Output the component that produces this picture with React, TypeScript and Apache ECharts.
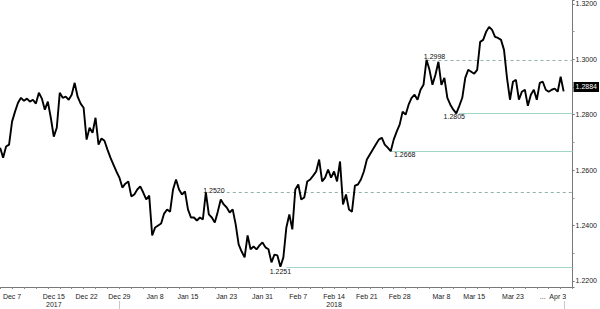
import React, { useEffect, useRef } from "react";
import * as echarts from "echarts";

// GBP/USD-style intraday path, sampled roughly evenly along the time axis
const prices = [
  1.2681, 1.2645, 1.2685, 1.2692, 1.2775, 1.2811, 1.2843, 1.2861, 1.2850, 1.2858,
  1.2847, 1.2854, 1.2840, 1.2879, 1.2858, 1.2818, 1.2847, 1.2789, 1.2721, 1.2753,
  1.2879, 1.2861, 1.2865, 1.2854, 1.2872, 1.2915, 1.2865, 1.2840, 1.2825, 1.2710,
  1.2753, 1.2735, 1.2789, 1.2692, 1.2714, 1.2706, 1.2674, 1.2645, 1.2620, 1.2595,
  1.2573, 1.2537, 1.2551, 1.2559, 1.2505, 1.2512, 1.2530, 1.2541, 1.2519, 1.2494,
  1.2508, 1.2364, 1.2393, 1.2400, 1.2407, 1.2443, 1.2458, 1.2450, 1.2530, 1.2566,
  1.2530, 1.2512, 1.2523, 1.2458, 1.2429, 1.2429, 1.2418, 1.2429, 1.2422, 1.2520,
  1.2440, 1.2429, 1.2411, 1.2450, 1.2494, 1.2476, 1.2465, 1.2447, 1.2458, 1.2404,
  1.2332, 1.2306, 1.2285, 1.2364, 1.2314, 1.2324, 1.2314, 1.2328, 1.2339, 1.2321,
  1.2314, 1.2267, 1.2295, 1.2292, 1.2251, 1.2285, 1.2393, 1.2440, 1.2386, 1.2530,
  1.2548, 1.2494, 1.2501, 1.2559, 1.2566, 1.2580, 1.2595, 1.2638, 1.2559, 1.2573,
  1.2602, 1.2573, 1.2595, 1.2559, 1.2631, 1.2476, 1.2512, 1.2458, 1.2450, 1.2544,
  1.2548, 1.2566, 1.2595, 1.2638, 1.2656, 1.2674, 1.2692, 1.2710, 1.2717, 1.2692,
  1.2681, 1.2668, 1.2710, 1.2739, 1.2764, 1.2811, 1.2800, 1.2836, 1.2861, 1.2872,
  1.2854, 1.2890, 1.2908, 1.2998, 1.2962, 1.2908, 1.2944, 1.2991, 1.2908, 1.2933,
  1.2861, 1.2836, 1.2818, 1.2805, 1.2832, 1.2861, 1.2933, 1.2962, 1.2955, 1.2948,
  1.2962, 1.3063, 1.3070, 1.3099, 1.3117, 1.3106, 1.3081, 1.3077, 1.3070, 1.3034,
  1.2933, 1.2854, 1.2919, 1.2926, 1.2854, 1.2883, 1.2890, 1.2832, 1.2872, 1.2890,
  1.2854, 1.2915, 1.2919, 1.2890, 1.2883, 1.2890, 1.2894, 1.2883, 1.2937, 1.2884,
];

const slotCount = 193; // time slots on the axis (last few are still empty)
const categories = Array.from({ length: slotCount }, (_, i) => String(i));

const tickIndex = [4, 18, 29, 40, 52, 63, 76, 88, 100, 112, 123, 134, 148, 159, 172, 182, 187];
const tickLabels = [
  "Dec 7", "Dec 15\n2017", "Dec 22", "Dec 29", "Jan 8", "Jan 15", "Jan 23", "Jan 31",
  "Feb 7", "Feb 14\n2018", "Feb 21", "Feb 28", "Mar 8", "Mar 15", "Mar 23", "...", "Apr 3",
];

const levels = [1.2998, 1.2805, 1.2668, 1.252, 1.2251];
const dashedLevels = [1.2998, 1.252];
const separatorIndex = [40, 189];

const FONT = "'Liberation Sans Narrow', 'Arial Narrow', 'Liberation Sans', Arial, sans-serif";

const labelStyle: Record<string, any> = {
  "1.2998": { position: "top", offset: [8, 2] },
  "1.2805": { position: "bottom", offset: [-2, -1] },
  "1.2668": { position: "bottom", offset: [14, -1] },
  "1.252": { position: "right", offset: [-4, -1] },
  "1.2251": { position: "bottom", offset: [0, 0] },
};
const lineGap: Record<string, number> = {
  "1.2998": 0, "1.2805": 1, "1.2668": 0, "1.252": 5, "1.2251": 2,
};

export default function App() {
  const ref = useRef<HTMLDivElement>(null);
  useEffect(() => {
    if (!ref.current) return;
    const chart = echarts.init(ref.current, undefined, { renderer: "svg" });
    const last = prices[prices.length - 1];
    const labelMap: Record<number, string> = {};
    tickIndex.forEach((t, k) => (labelMap[t] = tickLabels[k]));

    const markPoints = levels.map((v) => {
      const idx = prices.indexOf(v);
      const ls = labelStyle[String(v)];
      return {
        coord: [idx, v],
        value: v,
        symbolSize: 1,
        itemStyle: { color: "rgba(0,0,0,0)" },
        label: {
          show: true,
          position: ls.position,
          offset: ls.offset,
          distance: 1,
          formatter: v.toFixed(4),
          color: "#111",
          fontSize: 7,
          fontFamily: FONT,
        },
      };
    });

    const markLines: any[] = levels.map((v) => {
      const idx = prices.indexOf(v) + lineGap[String(v)];
      const dashed = dashedLevels.includes(v);
      return [
        {
          coord: [idx, v],
          lineStyle: {
            color: dashed ? "#8fb3aa" : "#9fd6c6",
            type: dashed ? [3, 3] : "solid",
            width: 1,
          },
          label: { show: false },
        },
        { coord: [slotCount - 1, v] },
      ];
    });
    markLines.push({
      yAxis: last,
      lineStyle: { color: "rgba(0,0,0,0)", width: 0 },
      label: {
        show: true,
        position: "end",
        distance: 1,
        formatter: last.toFixed(4),
        backgroundColor: "#000",
        color: "#fff",
        fontSize: 7,
        fontFamily: FONT,
        padding: [2, 2, 1, 2],
      },
    });

    chart.setOption({
      animation: false,
      grid: { left: 0, right: 23, top: 0, bottom: 22 },
      xAxis: {
        type: "category",
        data: categories,
        boundaryGap: false,
        axisLine: { show: true, lineStyle: { color: "#777", width: 1 } },
        axisTick: { show: true, interval: 3, length: 2, lineStyle: { color: "#888" } },
        axisLabel: {
          interval: (index: number) => labelMap[index] !== undefined,
          formatter: (_v: string, index: number) => labelMap[index] ?? "",
          fontSize: 7,
          lineHeight: 8,
          margin: 5,
          color: "#222",
          fontFamily: FONT,
        },
        splitLine: { show: false },
      },
      yAxis: {
        type: "value",
        position: "right",
        min: 1.2178,
        max: 1.3214,
        splitNumber: 5,
        axisLine: { show: true, lineStyle: { color: "#777", width: 1 } },
        axisTick: { show: true, length: 2, lineStyle: { color: "#777" } },
        minorTick: { show: true, splitNumber: 2, length: 2, lineStyle: { color: "#999" } },
        axisLabel: {
          showMinLabel: false,
          showMaxLabel: false,
          formatter: (v: number) => v.toFixed(4),
          fontSize: 7,
          margin: 3,
          color: "#222",
          fontFamily: FONT,
        },
        splitLine: { show: false },
      },
      series: [
        {
          type: "line",
          data: prices,
          symbol: "none",
          lineStyle: { color: "#000", width: 1.9 },
          z: 5,
          markPoint: { data: markPoints, animation: false },
          markLine: {
            symbol: ["none", "none"],
            silent: true,
            animation: false,
            data: markLines,
            z: 1,
          },
        },
      ],
    });

    const seps = separatorIndex.map((i) => {
      const x = Math.round(chart.convertToPixel({ xAxisIndex: 0 }, i) as number) + 0.5;
      return {
        type: "line",
        shape: { x1: x, y1: 301, x2: x, y2: 309 },
        style: { stroke: "#c8c8c8", lineWidth: 1 },
      };
    });
    chart.setOption({ graphic: seps });

    return () => chart.dispose();
  }, []);
  return (
    <div
      ref={ref}
      style={{ position: "absolute", left: 0, top: 0, width: 600, height: 309, background: "#fff" }}
    />
  );
}
